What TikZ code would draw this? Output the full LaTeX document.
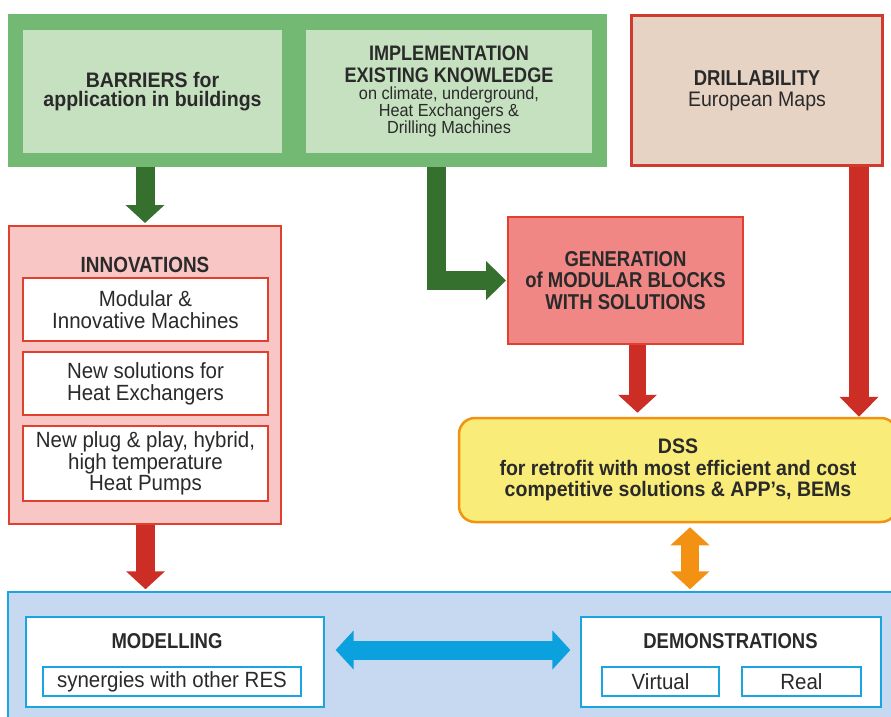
\documentclass[tikz,border=0pt]{standalone}
\usepackage{fontspec}
\setmainfont{Liberation Sans}[FakeStretch=0.86]
\newfontfamily\wf{Liberation Sans}[FakeStretch=0.93]
\newcommand\isub{\wf\mdseries\fontsize{17.5}{16.5}\selectfont}
\usetikzlibrary{arrows.meta}
\definecolor{greenOuter}{HTML}{74B973}
\definecolor{greenInner}{HTML}{C6E1C0}
\definecolor{darkgreen}{HTML}{35702F}
\definecolor{redline}{HTML}{E2402E}
\definecolor{redarrow}{HTML}{CC2E25}
\definecolor{pinkfill}{HTML}{F8C6C5}
\definecolor{salmon}{HTML}{F08784}
\definecolor{beige}{HTML}{E6D3C4}
\definecolor{drillborder}{HTML}{D13A2E}
\definecolor{yellowfill}{HTML}{F9EC78}
\definecolor{orangeline}{HTML}{F39212}
\definecolor{lightblue}{HTML}{C6D9F0}
\definecolor{cyanline}{HTML}{1AA5E0}
\definecolor{bluearrow}{HTML}{0AA1DE}
\definecolor{txt}{HTML}{2A2A2A}
\tikzset{
  box/.style={draw, rectangle, inner sep=0pt, align=center, text=txt},
  titlefont/.style={font=\bfseries\fontsize{21.5}{21.5}\selectfont},
  subfont/.style={font=\wf\fontsize{22}{21.7}\selectfont},
  smallfont/.style={font=\wf\fontsize{22}{22}\selectfont},
  bigarrow/.style={line width=19pt, {Triangle[width=38pt,length=18pt]}-{Triangle[width=38pt,length=18pt]}},
  onearrow/.style={line width=19pt, -{Triangle[width=38pt,length=18pt]}},
}
\begin{document}
\begin{tikzpicture}[x=1pt,y=-1pt]
\useasboundingbox (0,0) rectangle (891,717);
\clip (0,0) rectangle (891,717);
% top green block
\node[box, draw=none, fill=greenOuter, minimum width=599pt, minimum height=153pt] (g) at (307.5,90.5) {};
\node[box, draw=none, fill=greenInner, minimum width=259pt, minimum height=123pt, font=\wf\bfseries\fontsize{21}{19.5}\selectfont] (bar) at (152.5,91.5) {BARRIERS for\\application in buildings};
\node[box, draw=none, fill=greenInner, minimum width=286pt, minimum height=123pt, font=\bfseries\fontsize{21}{22}\selectfont] (impl) at (449,91.5) {IMPLEMENTATION\\EXISTING KNOWLEDGE\\[-5pt]\isub on climate, underground,\\[-5pt]\isub Heat Exchangers \&\\[-5.5pt]\isub Drilling Machines};
% drillability
\node[box, draw=drillborder, line width=3pt, fill=beige, minimum width=251pt, minimum height=150pt, font=\bfseries\fontsize{21.5}{21}\selectfont] (drill) at (757,90.5) {DRILLABILITY\\\wf\mdseries\fontsize{21}{21}\selectfont European Maps};
% innovations
\node[box, draw=redline, line width=2pt, fill=pinkfill, minimum width=272pt, minimum height=298pt] (innov) at (145,375) {};
\node[text=txt, anchor=base, font=\bfseries\fontsize{22}{22}\selectfont] (innovt) at (145,272) {INNOVATIONS};
\node[box, draw=redline, line width=2pt, fill=white, minimum width=245pt, minimum height=63pt, subfont] (m1) at (145.5,309.5) {Modular \&\\Innovative Machines};
\node[box, draw=redline, line width=2pt, fill=white, minimum width=245pt, minimum height=63pt, subfont] (m2) at (145.5,383.5) {New solutions for\\Heat Exchangers};
\node[box, draw=redline, line width=2pt, fill=white, minimum width=245pt, minimum height=75pt, subfont] (m3) at (145.5,463.5) {New plug \& play, hybrid,\\high temperature\\Heat Pumps};
% generation
\node[box, draw=redline, line width=2pt, fill=salmon, minimum width=235pt, minimum height=127pt, titlefont] (gen) at (625.5,280.5) {GENERATION\\of MODULAR BLOCKS\\WITH SOLUTIONS};
% DSS
\node[box, draw=orangeline, line width=2.5pt, fill=yellowfill, rounded corners=16pt, minimum width=438pt, minimum height=104pt, font=\wf\bfseries\fontsize{21}{21.5}\selectfont] (dss) at (678,470) {DSS\\for retrofit with most efficient and cost\\competitive solutions \& APP’s, BEMs};
% bottom blue block
\node[box, draw=cyanline, line width=1.5pt, fill=lightblue, minimum width=892pt, minimum height=134pt] (blue) at (454,659) {};
\node[box, draw=cyanline, line width=1.2pt, fill=white, minimum width=298pt, minimum height=90pt] (mod) at (175,662) {};
\node[titlefont, text=txt, anchor=base] (modt) at (167,648) {MODELLING};
\node[box, draw=cyanline, line width=1.2pt, fill=white, minimum width=258pt, minimum height=29pt, smallfont] (syn) at (172,681.5) {synergies with other RES};
\node[box, draw=cyanline, line width=1.2pt, fill=white, minimum width=300pt, minimum height=90pt] (demo) at (731,662) {};
\node[titlefont, text=txt, anchor=base] (demot) at (730.5,648) {DEMONSTRATIONS};
\node[box, draw=cyanline, line width=1.2pt, fill=white, minimum width=117pt, minimum height=29pt, smallfont] (virt) at (660.5,681.5) {Virtual};
\node[box, draw=cyanline, line width=1.2pt, fill=white, minimum width=119pt, minimum height=29pt, smallfont] (real) at (801.5,681.5) {Real};
% arrows
\coordinate (lstart) at (436.5,167);
\draw[onearrow, darkgreen] (g.south -| innov.north) -- ([yshift=2pt]innov.north);
\draw[onearrow, darkgreen, line join=miter, -{Triangle[width=38pt,length=20pt]}] (lstart) |- ([xshift=-1pt]gen.west);
\draw[onearrow, redarrow] ([xshift=0.5pt]innov.south) -- ([xshift=0.5pt,yshift=2pt]innov.south |- blue.north);
\draw[onearrow, redarrow, line width=17pt] ([xshift=12pt]gen.south) -- ([xshift=12pt,yshift=4pt]gen.south |- dss.north);
\draw[onearrow, redarrow, line width=20pt, -{Triangle[width=38pt,length=20pt]}] ([xshift=102pt]drill.south) -- ([xshift=102pt]drill.south |- dss.north);
\draw[bigarrow, orangeline, line width=18pt, shorten <=4pt, shorten >=2pt] ([xshift=12pt]dss.south) -- ([xshift=12pt]dss.south |- blue.north);
\draw[bigarrow, bluearrow, shorten <=11pt, shorten >=10pt] ([yshift=12pt]mod.east) -- ([yshift=12pt]mod.east -| demo.west);
\end{tikzpicture}
\end{document}
